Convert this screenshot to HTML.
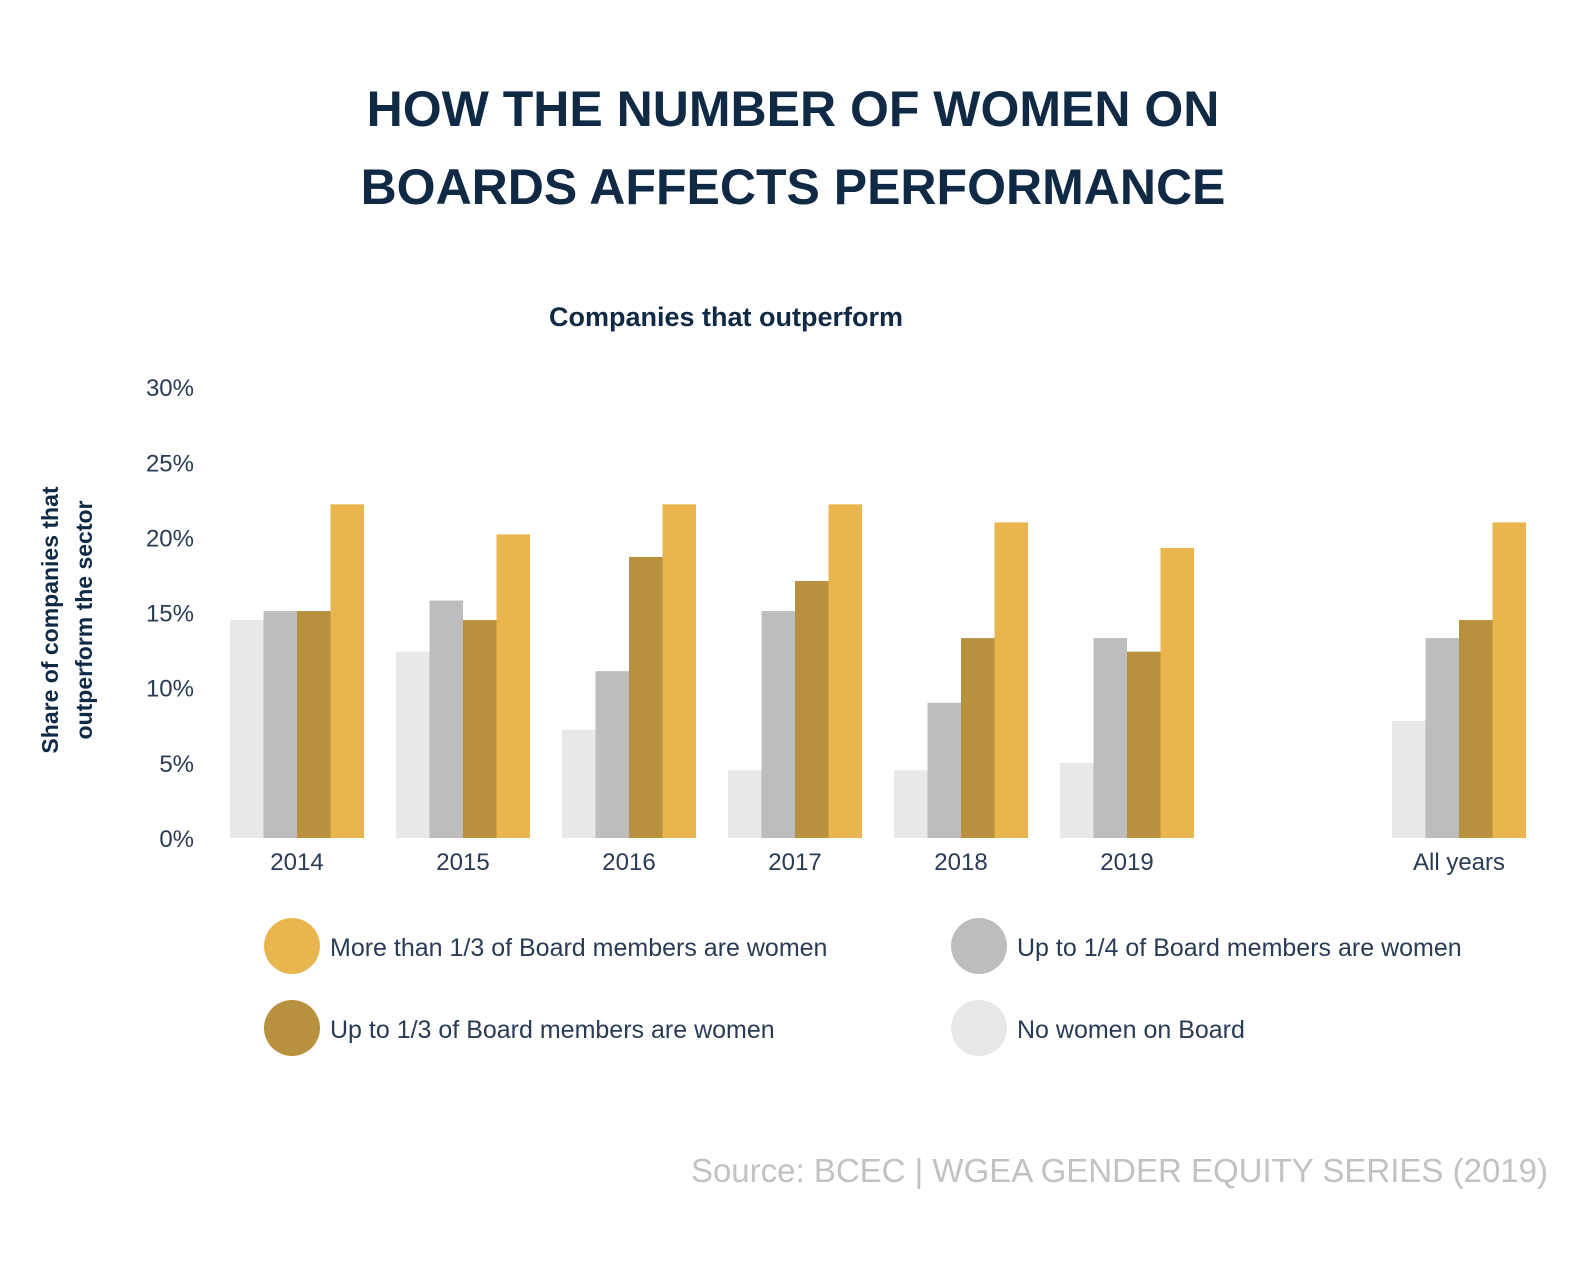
<!DOCTYPE html>
<html><head><meta charset="utf-8"><style>
body{margin:0;background:#fff;width:1592px;height:1256px;overflow:hidden;font-family:"Liberation Sans",sans-serif}
</style></head><body>
<svg width="1592" height="1256" xmlns="http://www.w3.org/2000/svg">
<text x="793" y="126" text-anchor="middle" font-size="50" font-weight="bold" fill="#102a45">HOW THE NUMBER OF WOMEN ON</text>
<text x="793" y="204" text-anchor="middle" font-size="50" font-weight="bold" fill="#102a45">BOARDS AFFECTS PERFORMANCE</text>
<text x="726" y="326" text-anchor="middle" font-size="27" font-weight="bold" fill="#102a45">Companies that outperform</text>
<g transform="translate(58,620) rotate(-90)">
<text x="0" y="0" text-anchor="middle" font-size="23" font-weight="bold" fill="#102a45">Share of companies that</text>
<text x="0" y="34" text-anchor="middle" font-size="23" font-weight="bold" fill="#102a45">outperform the sector</text>
</g>
<g id="ticks"></g><g id="bars"></g><g id="xlabels"></g>
<g>
<circle cx="292" cy="946" r="28" fill="#E9B54F"/>
<text x="330" y="956" font-size="25" fill="#2a3b55">More than 1/3 of Board members are women</text>
<circle cx="292" cy="1028" r="28" fill="#B8913F"/>
<text x="330" y="1038" font-size="25" fill="#2a3b55">Up to 1/3 of Board members are women</text>
<circle cx="979" cy="946" r="28" fill="#BDBDBD"/>
<text x="1017" y="956" font-size="25" fill="#2a3b55">Up to 1/4 of Board members are women</text>
<circle cx="979" cy="1028" r="28" fill="#E8E8E8"/>
<text x="1017" y="1038" font-size="25" fill="#2a3b55">No women on Board</text>
</g>
<text x="1548" y="1182" text-anchor="end" font-size="33" fill="#c2c2c2">Source: BCEC | WGEA GENDER EQUITY SERIES (2019)</text>
</svg>
<script>
const categories=["2014","2015","2016","2017","2018","2019","All years"];
const slots=[0,1,2,3,4,5,7];
const noWomen=[14.5,12.4,7.2,4.5,4.5,5.0,7.8];
const upToQuarter=[15.1,15.8,11.1,15.1,9.0,13.3,13.3];
const upToThird=[15.1,14.5,18.7,17.1,13.3,12.4,14.5];
const moreThanThird=[22.2,20.2,22.2,22.2,21.0,19.3,21.0];
const yTicks=[0,5,10,15,20,25,30];
const tickLabels=["0%","5%","10%","15%","20%","25%","30%"];
const NS="http://www.w3.org/2000/svg";
const y=v=>838-v*15.03;
const x=s=>230+s*166;
const bw=33.5;
const series=[[noWomen,"#E8E8E8","no-women"],[upToQuarter,"#BDBDBD","up-to-quarter"],[upToThird,"#B8913F","up-to-third"],[moreThanThird,"#E9B54F","more-than-third"]];
const tg=document.getElementById("ticks");
yTicks.forEach((t,i)=>{const e=document.createElementNS(NS,"text");
e.setAttribute("x",194);e.setAttribute("y",y(t)+9);e.setAttribute("text-anchor","end");
e.setAttribute("font-size","24");e.setAttribute("fill","#2a3b55");e.textContent=tickLabels[i];


tg.appendChild(e);});
const bg=document.getElementById("bars"),xg=document.getElementById("xlabels");
categories.forEach((c,i)=>{
series.forEach((s,j)=>{const r=document.createElementNS(NS,"rect");
const v=s[0][i];r.setAttribute("x",x(slots[i])+j*bw);r.setAttribute("y",y(v));
r.setAttribute("width",bw);r.setAttribute("height",838-y(v));r.setAttribute("fill",s[1]);


bg.appendChild(r);});
const t=document.createElementNS(NS,"text");
t.setAttribute("x",x(slots[i])+2*bw);t.setAttribute("y",870);t.setAttribute("text-anchor","middle");
t.setAttribute("font-size","24");t.setAttribute("fill","#2a3b55");t.textContent=c;


xg.appendChild(t);});
</script>
</body></html>
